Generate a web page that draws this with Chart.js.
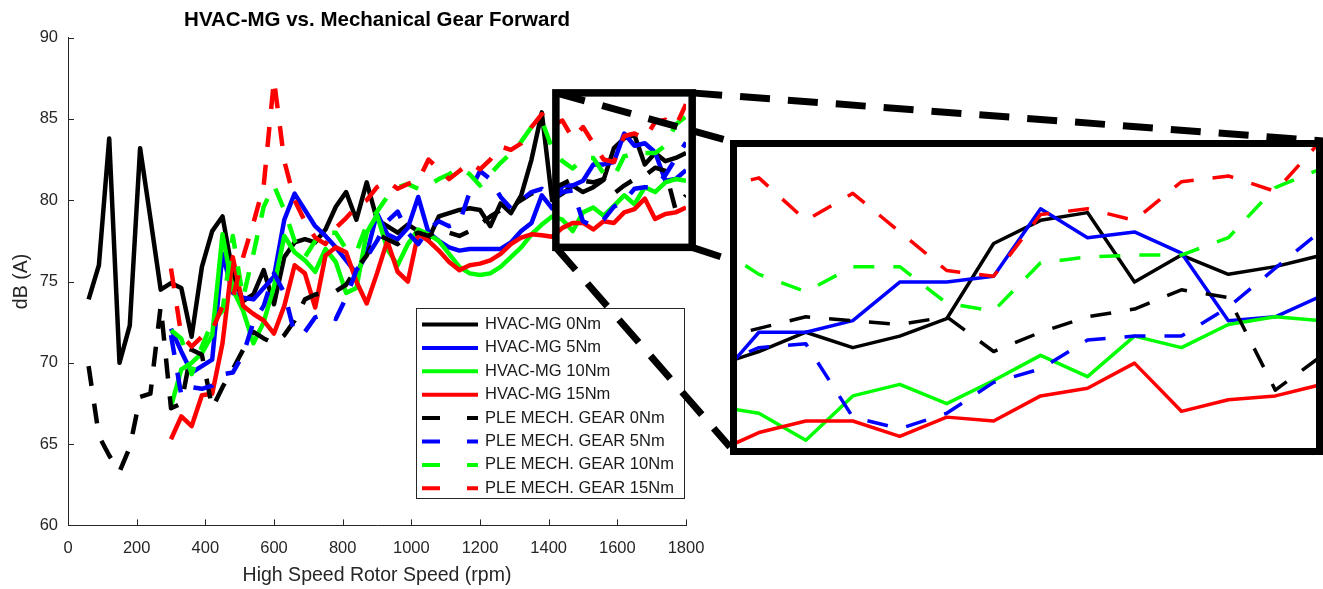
<!DOCTYPE html>
<html>
<head>
<meta charset="utf-8">
<title>HVAC-MG vs. Mechanical Gear Forward</title>
<script src="https://cdn.jsdelivr.net/npm/chart.js@4.4.1/dist/chart.umd.min.js"></script>
<style>
    html, body { margin: 0; padding: 0; background: #fff; }
    #wrap { position: relative; width: 1323px; height: 589px; overflow: hidden; }
    #main { position: absolute; left: 0; top: 0; }
    #zoomBox { position: absolute; left: 730px; top: 140px; width: 579px; height: 301px;
               border: 7px solid #000; background: #fff; }
    #inset { display: block; }
</style>
</head>
<body>
<div id="wrap">
    <canvas id="main" width="1323" height="589"></canvas>
    <div id="zoomBox"><canvas id="inset" width="579" height="301"></canvas></div>
</div>
<script>
// Rotor speed (rpm) for every measurement
const rpm = [60, 90, 120, 150, 180, 210, 240, 270, 300, 330, 360, 390, 420, 450, 480, 510, 540, 570,
    600, 630, 660, 690, 720, 750, 780, 810, 840, 870, 900, 930, 960, 990, 1020, 1050, 1080, 1110,
    1140, 1170, 1200, 1230, 1260, 1290, 1320, 1350, 1380, 1410, 1440, 1470, 1500, 1530, 1560, 1590,
    1620, 1650, 1680, 1710, 1740, 1770, 1800];

// Sound level dB(A)
const hvac0 = [73.9, 76.0, 83.8, 70.0, 72.3, 83.2, 78.9, 74.5, 74.9, 74.6, 71.6, 75.9, 78.1, 79.0, 75.5,
    73.8, 74.2, 75.7, 73.6, 76.5, 77.4, 77.6, 77.4, 78.2, 79.6, 80.5, 78.8, 81.1, 78.8, 78.4, 78.0,
    78.5, 78.1, 77.6, 79.0, 79.2, 79.4, 79.5, 79.4, 78.4, 79.8, 79.2, 80.3, 82.5, 85.4, 80.0, 80.4,
    80.9, 80.5, 80.8, 81.25, 83.2, 83.8, 84.0, 82.2, 82.9, 82.4, 82.6, 82.9];
const hvac5 = [null, null, null, null, null, null, null, null,
    72.1, 70.7, 69.4, 69.8, 70.2, 76.7, 74.3, 74.0, 73.9, 74.6, 75.3, 78.8, 80.4, 79.4, 78.4, 77.8,
    77.1, 76.3, 75.5, 76.7, 79.2, 77.9, 77.6, 78.3, 80.2, 78.0, 77.5, 77.1, 76.9, 77.0, 77.0, 77.0,
    77.0, 77.4, 78.1, 78.6, 80.3, 79.5, 80.9, 80.9, 81.2, 82.2, 82.2, 82.35, 84.1, 83.35, 83.5,
    82.95, 81.2, 81.3, 81.85];
const hvac10 = [null, null, null, null, null, null, null, null,
    67.3, 69.6, 70.0, 70.6, 71.7, 77.9, 74.5, 73.2, 71.2, 72.5, 74.7, 77.8, 76.8, 76.3, 75.6, 77.0,
    76.2, 74.3, 74.6, 78.0, 79.1, 77.0, 76.0, 77.3, 78.2, 77.9, 77.5, 76.7, 75.9, 75.5, 75.4, 75.5,
    75.9, 76.5, 77.1, 77.9, 78.5, 79.0, 78.8, 78.1, 79.25, 79.55, 79.05, 79.65, 80.3, 79.75, 80.8,
    80.5, 81.1, 81.3, 81.2];
const hvac15 = [null, null, null, null, null, null, null, null,
    65.3, 66.7, 66.1, 68.0, 68.1, 71.2, 76.5, 73.5, 73.0, 72.6, 71.8, 73.5, 76.0, 75.5, 73.4, 76.6,
    77.1, 76.8, 75.0, 73.65, 75.5, 77.5, 75.6, 75.0, 77.95, 77.5, 76.9, 76.2, 75.7, 76.0, 76.1, 76.3,
    76.7, 77.3, 77.7, 77.9, 77.85, 77.75, 78.3, 78.6, 78.6, 78.2, 78.7, 78.6, 79.25, 79.45, 80.1,
    78.85, 79.15, 79.25, 79.55];
const ple0 = [69.8, 65.5, 64.3, 63.3, 64.8, 67.9, 68.1, 73.5, 67.2, 67.5, 70.8, 70.5, 67.2, 68.5, 69.6,
    70.8, 71.9, 71.5, 71.2, 71.7, 72.6, 73.9, 74.2, 74.3, 74.4, 74.8, 75.8, 76.6, 77.9, 77.6, 77.3,
    77.8, 78.0, 77.8, 78.2, 78.0, 77.8, 78.1, 78.5, 79.0, 79.4, 79.6, 80.0, 80.4, 80.6, 80.7, 81.0,
    81.3, 81.2, 81.1, 81.3, 80.4, 80.9, 81.3, 81.5, 82.0, 81.8, 79.4, 80.3];
const ple5 = [null, null, null, null, null, null, null, null,
    71.7, 68.0, 68.5, 68.4, 68.6, 69.3, 69.4, 70.5, 72.5, 73.5, 75.5, 74.3, 71.8, 71.9, 72.8, 73.0,
    72.7, 74.0, 75.7, 76.5, 77.5, 78.7, 79.3, 78.0, 77.3, 78.2, 78.7, 78.4, 78.6, 80.5, 81.8, 81.3,
    80.2, 79.5, 80.0, 80.5, 80.7, 80.0, 80.5, 80.6, 78.7, 78.4, 78.8, 79.6, 79.95, 80.7, 80.8, 80.8,
    81.55, 82.56, 83.55];
const ple10 = [null, null, null, null, null, null, null, null,
    72.0, 71.5, 69.3, 71.0, 72.5, 73.2, 77.8, 74.0, 76.7, 79.6, 80.9, 79.4, 77.5, 76.5, 77.5, 78.0,
    78.0, 77.0, 76.8, 78.5, 79.3, 80.2, 80.8, 81.0, 80.7, 80.9, 81.3, 81.6, 82.0, 81.6, 80.9, 81.6,
    82.3, 82.9, 83.6, 84.5, 84.9, 83.2, 82.4, 81.95, 82.6, 82.6, 81.65, 81.45, 82.7, 82.85, 82.9,
    82.9, 83.35, 84.65, 85.15];
const ple15 = [null, null, null, null, null, null, null, null,
    75.8, 71.7, 71.0, 71.6, 72.0, 73.5, 74.0, 76.5, 78.6, 80.9, 87.4, 82.4, 80.0, 78.7, 77.7, 77.3,
    78.3, 78.9, 79.6, 80.0, 80.8, 81.2, 80.7, 81.0, 81.2, 82.5, 81.9, 81.3, 81.8, 82.3, 81.9, 82.5,
    83.3, 83.1, 83.5, 84.5, 85.3, 84.6, 84.9, 83.8, 84.5, 83.5, 82.5, 82.35, 83.95, 84.1, 83.8,
    84.8, 84.95, 84.55, 85.9];

const seriesLabels = ['HVAC-MG 0Nm', 'HVAC-MG 5Nm', 'HVAC-MG 10Nm', 'HVAC-MG 15Nm',
    'PLE MECH. GEAR 0Nm', 'PLE MECH. GEAR 5Nm', 'PLE MECH. GEAR 10Nm', 'PLE MECH. GEAR 15Nm'];
const seriesValues = [hvac0, hvac5, hvac10, hvac15, ple0, ple5, ple10, ple15];
const seriesColors = ['#000000', '#0000ff', '#00ff00', '#ff0000', '#000000', '#0000ff', '#00ff00', '#ff0000'];
const seriesDashed = [false, false, false, false, true, true, true, true];

const xTickValues = [0, 200, 400, 600, 800, 1000, 1200, 1400, 1600, 1800];
const yTickValues = [60, 65, 70, 75, 80, 85, 90];

// window shown in the magnified inset, and the box marked on the main plot
const zoomRpm = [1426, 1796];
const zoomDb = [77.9, 85.7];
const boxRpm = [1421, 1818];
const boxDb = [77.1, 86.6];

const FONT = "'Liberation Sans', Arial, Helvetica, sans-serif";
const AXIS_GRAY = '#262626';
Chart.defaults.font.family = FONT;

function makeDatasets(width, dash) {
    return seriesLabels.map((label, i) => ({
        label: label,
        data: rpm.map((r, j) => ({ x: r, y: seriesValues[i][j] })),
        borderColor: seriesColors[i],
        backgroundColor: seriesColors[i],
        borderWidth: width,
        borderDash: seriesDashed[i] ? dash : [],
        borderJoinStyle: 'round',
        pointRadius: 0,
        tension: 0,
        fill: false,
        order: seriesLabels.length - i   // later series drawn on top
    }));
}

// inward ticks, legend, zoom box and its connectors
const overlayPlugin = {
    id: 'overlay',
    afterDraw(chart) {
        const { ctx, chartArea: a, scales: { x, y } } = chart;
        ctx.save();

        ctx.strokeStyle = AXIS_GRAY;
        ctx.lineWidth = 1;
        xTickValues.forEach(v => {
            const px = Math.round(x.getPixelForValue(v)) + 0.5;
            ctx.beginPath();
            ctx.moveTo(px, a.bottom);
            ctx.lineTo(px, a.bottom - 6);
            ctx.stroke();
        });
        yTickValues.forEach(v => {
            const py = Math.round(y.getPixelForValue(v)) + 0.5;
            ctx.beginPath();
            ctx.moveTo(a.left, py);
            ctx.lineTo(a.left + 6, py);
            ctx.stroke();
        });

        // legend
        const lg = { left: 416, top: 308, width: 268, height: 190 };
        ctx.fillStyle = '#fff';
        ctx.fillRect(lg.left, lg.top, lg.width, lg.height);
        ctx.strokeStyle = AXIS_GRAY;
        ctx.lineWidth = 1;
        ctx.strokeRect(lg.left + 0.5, lg.top + 0.5, lg.width, lg.height);
        ctx.font = '16.5px ' + FONT;
        ctx.textBaseline = 'middle';
        ctx.textAlign = 'left';
        seriesLabels.forEach((label, i) => {
            const ry = lg.top + 16.5 + i * 23.4;
            ctx.strokeStyle = seriesColors[i];
            ctx.lineWidth = 4;
            ctx.beginPath();
            if (seriesDashed[i]) {
                ctx.moveTo(422, ry); ctx.lineTo(440, ry);
                ctx.moveTo(467, ry); ctx.lineTo(478, ry);
            } else {
                ctx.moveTo(422, ry); ctx.lineTo(478, ry);
            }
            ctx.stroke();
            ctx.fillStyle = '#1a1a1a';
            ctx.fillText(label, 485, ry);
        });

        // zoom rectangle on the plot
        const rx1 = x.getPixelForValue(boxRpm[0]);
        const rx2 = x.getPixelForValue(boxRpm[1]);
        const ry1 = y.getPixelForValue(boxDb[1]);
        const ry2 = y.getPixelForValue(boxDb[0]);
        ctx.strokeStyle = '#000';
        ctx.lineWidth = 7.5;
        ctx.setLineDash([]);
        ctx.strokeRect(rx1, ry1, rx2 - rx1, ry2 - ry1);

        // dashed connectors to the inset box
        const box = document.getElementById('zoomBox');
        const bl = box.offsetLeft, bt = box.offsetTop;
        const br = bl + box.offsetWidth, bb = bt + box.offsetHeight;
        ctx.lineWidth = 7;
        ctx.setLineDash([30, 18]);
        ctx.lineCap = 'butt';
        [[rx1, ry1, bl + 3, bt + 2], [rx2, ry1, br, bt + 1],
         [rx1, ry2, bl, bb - 8], [rx2, ry2, br, bb]].forEach(s => {
            ctx.beginPath();
            ctx.moveTo(s[0], s[1]);
            ctx.lineTo(s[2], s[3]);
            ctx.stroke();
        });
        ctx.restore();
    }
};

const mainChart = new Chart(document.getElementById('main').getContext('2d'), {
    type: 'line',
    data: { datasets: makeDatasets(4.5, [20, 18]) },
    options: {
        responsive: false,
        animation: false,
        events: [],
        layout: { padding: { left: 0, right: 637, top: 0, bottom: 0 } },
        plugins: {
            legend: { display: false },
            tooltip: { enabled: false },
            title: {
                display: true,
                fullSize: false,
                text: 'HVAC-MG vs. Mechanical Gear Forward',
                color: '#000',
                font: { size: 20.5, weight: 'bold' },
                padding: { top: 8, bottom: 5 }
            }
        },
        scales: {
            x: {
                type: 'linear',
                min: 0,
                max: 1800,
                afterBuildTicks: s => { s.ticks = xTickValues.map(v => ({ value: v })); },
                afterFit: s => { s.height = 63.6; },
                ticks: {
                    color: AXIS_GRAY, font: { size: 16.5 }, padding: 13, autoSkip: false, maxRotation: 0,
                    callback: v => String(v)
                },
                grid: { display: false, drawTicks: false },
                border: { display: true, color: AXIS_GRAY, width: 1 },
                title: {
                    display: true,
                    text: 'High Speed Rotor Speed (rpm)',
                    color: AXIS_GRAY,
                    font: { size: 19.5 },
                    padding: { top: 0, bottom: 2 }
                }
            },
            y: {
                min: 60,
                max: 90,
                afterBuildTicks: s => { s.ticks = yTickValues.map(v => ({ value: v })); },
                afterFit: s => { s.width = 68; },
                ticks: { color: AXIS_GRAY, font: { size: 16.5 }, padding: 10, callback: v => String(v) },
                grid: { display: false, drawTicks: false },
                border: { display: true, color: AXIS_GRAY, width: 1 },
                title: {
                    display: true,
                    text: 'dB (A)',
                    color: AXIS_GRAY,
                    font: { size: 19.5 },
                    padding: { top: 10, bottom: 0 }
                }
            }
        }
    },
    plugins: [overlayPlugin]
});

// magnified view of the high-speed end
const insetChart = new Chart(document.getElementById('inset').getContext('2d'), {
    type: 'line',
    data: { datasets: makeDatasets(3.5, [21, 19]) },
    options: {
        responsive: false,
        animation: false,
        events: [],
        layout: { padding: 0 },
        plugins: { legend: { display: false }, tooltip: { enabled: false }, title: { display: false } },
        scales: {
            x: { type: 'linear', display: false, min: zoomRpm[0], max: zoomRpm[1] },
            y: { display: false, min: zoomDb[0], max: zoomDb[1] }
        }
    }
});
</script>
</body>
</html>
